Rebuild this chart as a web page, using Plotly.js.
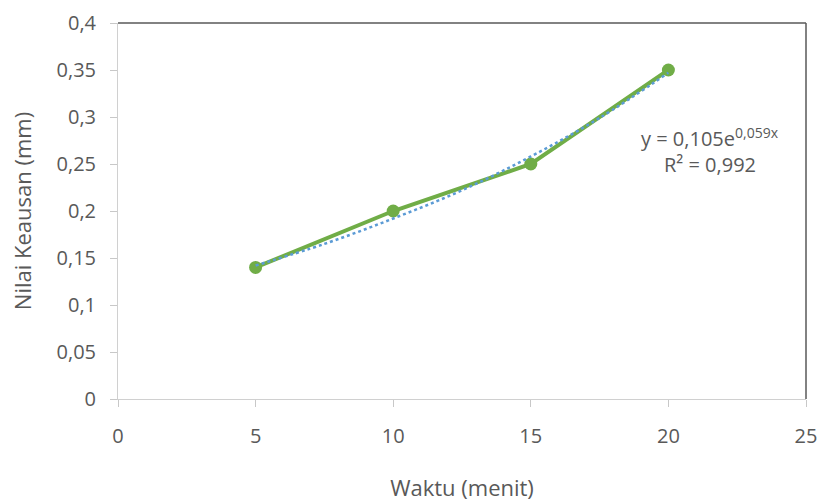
<!DOCTYPE html>
<html>
<head>
<meta charset="utf-8">
<script src="https://cdn.plot.ly/plotly-3.0.1.min.js"></script>
<style>html,body{margin:0;padding:0;background:#fff;}#chart{width:820px;height:502px;}</style>
</head>
<body>
<div id="chart"></div>
<script>
// Data
const waktu = [5, 10, 15, 20];
const keausan = [0.14, 0.2, 0.25, 0.35];
// Exponential trendline (as drawn in the reference), read at these x positions
const trendX = [5, 7.5, 10, 12.5, 15, 17.5, 20];
const trendY = [0.142, 0.165, 0.192, 0.222, 0.258, 0.299, 0.347];
const eqLine1 = 'y = 0,105e<sup>0,059x</sup>';
const eqLine2 = 'R² = 0,992';
const xTitle = 'Waktu (menit)';
const yTitle = 'Nilai Keausan (mm)';

const FONT = 'Open Sans, sans-serif';
const TXT = '#595959';

const traces = [
  {
    x: waktu, y: keausan, type: 'scatter', mode: 'lines+markers',
    line: {color: '#70AD47', width: 4},
    marker: {color: '#70AD47', size: 13},
    showlegend: false, hoverinfo: 'x+y'
  },
  {
    x: trendX, y: trendY, type: 'scatter', mode: 'lines',
    line: {color: '#5B9BD5', width: 2.5, dash: 'dot', shape: 'spline'},
    showlegend: false, hoverinfo: 'skip'
  }
];

const layout = {
  width: 820, height: 502,
  margin: {l: 118, r: 14, t: 23, b: 103},
  paper_bgcolor: '#fff', plot_bgcolor: '#fff',
  separators: ', ',
  font: {family: FONT, size: 20, color: TXT},
  xaxis: {
    range: [0, 25], dtick: 5, tick0: 0,
    showgrid: false, zeroline: false,
    showline: true, linecolor: '#d0d0d0', linewidth: 1,
    ticks: 'outside', ticklen: 7, tickcolor: '#c8c8c8', tickwidth: 1,
    ticklabelstandoff: 12,
    tickfont: {family: FONT, size: 20, color: TXT},
    title: {text: xTitle, font: {family: FONT, size: 22, color: TXT}, standoff: 34}
  },
  yaxis: {
    range: [0, 0.4], dtick: 0.05, tick0: 0,
    showgrid: false, zeroline: false,
    showline: true, linecolor: '#d0d0d0', linewidth: 1,
    ticks: 'outside', ticklen: 7, tickcolor: '#c8c8c8', tickwidth: 1,
    ticklabelstandoff: 10,
    tickfont: {family: FONT, size: 20, color: TXT},
    title: {text: yTitle, font: {family: FONT, size: 22, color: TXT}, standoff: 18}
  },
  shapes: [
    {type: 'line', xref: 'paper', yref: 'paper', x0: 0, x1: 1, y0: 1, y1: 1,
     line: {color: '#595959', width: 1.5}},
    {type: 'line', xref: 'paper', yref: 'paper', x0: 1, x1: 1, y0: 0, y1: 1,
     line: {color: '#595959', width: 1.5}}
  ],
  annotations: [
    {xref: 'paper', yref: 'paper', x: 0.86, y: 0.695, text: eqLine1, showarrow: false,
     xanchor: 'center', yanchor: 'middle', font: {family: FONT, size: 20, color: TXT}},
    {xref: 'paper', yref: 'paper', x: 0.86, y: 0.625, text: eqLine2, showarrow: false,
     xanchor: 'center', yanchor: 'middle', font: {family: FONT, size: 20, color: TXT}}
  ]
};

Plotly.newPlot('chart', traces, layout, {displayModeBar: false, staticPlot: true});
</script>
</body>
</html>
